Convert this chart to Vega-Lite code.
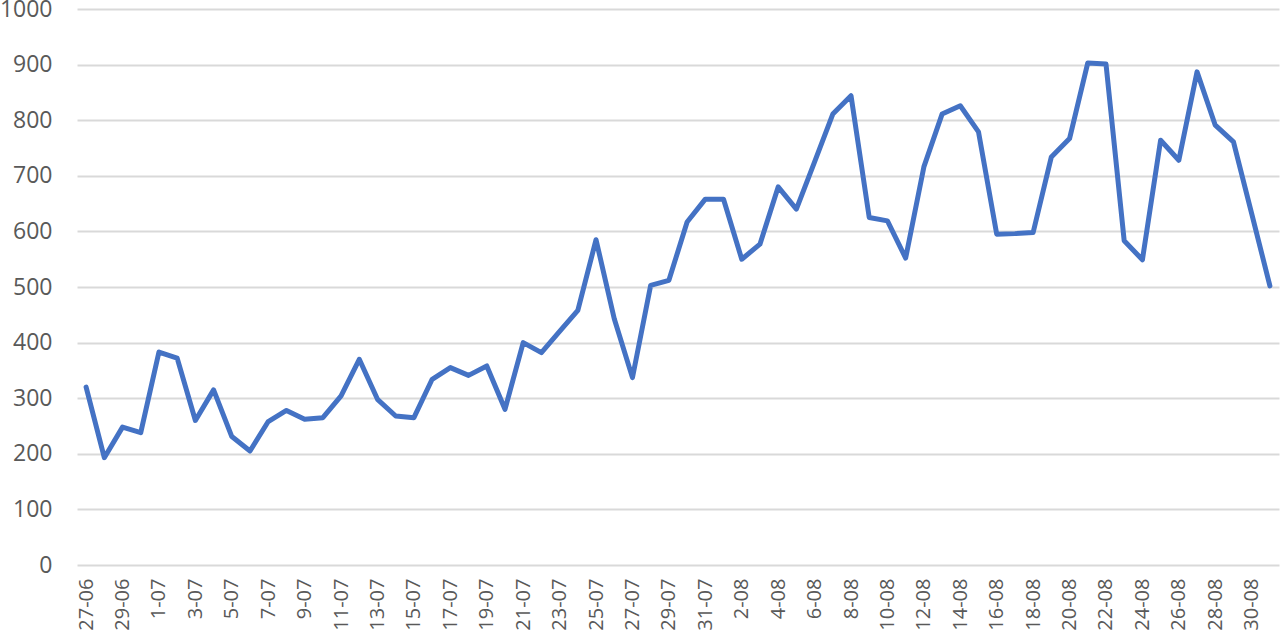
{
  "$schema": "https://vega.github.io/schema/vega-lite/v6.json",
  "width": 1202,
  "height": 556,
  "autosize": {"type": "none"},
  "padding": {"left": 77, "top": 9, "right": 1, "bottom": 69},
  "background": "white",
  "config": {"view": {"stroke": null}, "font": "Open Sans"},
  "data": {"values": [
    {"date": "27-06", "value": 320}, {"date": "28-06", "value": 193}, {"date": "29-06", "value": 248}, {"date": "30-06", "value": 238},
    {"date": "1-07", "value": 383}, {"date": "2-07", "value": 372}, {"date": "3-07", "value": 260}, {"date": "4-07", "value": 315},
    {"date": "5-07", "value": 231}, {"date": "6-07", "value": 205}, {"date": "7-07", "value": 258}, {"date": "8-07", "value": 278},
    {"date": "9-07", "value": 262}, {"date": "10-07", "value": 265}, {"date": "11-07", "value": 304}, {"date": "12-07", "value": 370},
    {"date": "13-07", "value": 298}, {"date": "14-07", "value": 268}, {"date": "15-07", "value": 265}, {"date": "16-07", "value": 334},
    {"date": "17-07", "value": 355}, {"date": "18-07", "value": 341}, {"date": "19-07", "value": 358}, {"date": "20-07", "value": 280},
    {"date": "21-07", "value": 400}, {"date": "22-07", "value": 382}, {"date": "23-07", "value": 420}, {"date": "24-07", "value": 458},
    {"date": "25-07", "value": 585}, {"date": "26-07", "value": 443}, {"date": "27-07", "value": 337}, {"date": "28-07", "value": 503},
    {"date": "29-07", "value": 512}, {"date": "30-07", "value": 617}, {"date": "31-07", "value": 658}, {"date": "1-08", "value": 658},
    {"date": "2-08", "value": 550}, {"date": "3-08", "value": 577}, {"date": "4-08", "value": 680}, {"date": "5-08", "value": 640},
    {"date": "6-08", "value": 725}, {"date": "7-08", "value": 811}, {"date": "8-08", "value": 844}, {"date": "9-08", "value": 625},
    {"date": "10-08", "value": 619}, {"date": "11-08", "value": 552}, {"date": "12-08", "value": 716}, {"date": "13-08", "value": 811},
    {"date": "14-08", "value": 826}, {"date": "15-08", "value": 779}, {"date": "16-08", "value": 595}, {"date": "17-08", "value": 596},
    {"date": "18-08", "value": 598}, {"date": "19-08", "value": 734}, {"date": "20-08", "value": 767}, {"date": "21-08", "value": 903},
    {"date": "22-08", "value": 901}, {"date": "23-08", "value": 583}, {"date": "24-08", "value": 549}, {"date": "25-08", "value": 764},
    {"date": "26-08", "value": 728}, {"date": "27-08", "value": 887}, {"date": "28-08", "value": 791}, {"date": "29-08", "value": 761},
    {"date": "30-08", "value": 632}, {"date": "31-08", "value": 502}
  ]},
  "mark": {"type": "line", "color": "#4472C4", "strokeWidth": 5, "strokeJoin": "round", "strokeCap": "round"},
  "encoding": {
    "x": {
      "field": "date", "type": "ordinal", "sort": null,
      "scale": {"type": "point", "padding": 0.5},
      "axis": {
        "title": null, "domain": false, "ticks": false, "grid": false,
        "labelAngle": -90, "labelAlign": "right", "labelBaseline": "middle",
        "labelPadding": 13, "labelFontSize": 20, "labelColor": "#595959", "labelOverlap": false,
        "values": ["27-06", "29-06", "1-07", "3-07", "5-07", "7-07", "9-07", "11-07", "13-07", "15-07", "17-07", "19-07", "21-07", "23-07", "25-07", "27-07", "29-07", "31-07", "2-08", "4-08", "6-08", "8-08", "10-08", "12-08", "14-08", "16-08", "18-08", "20-08", "22-08", "24-08", "26-08", "28-08", "30-08"]
      }
    },
    "y": {
      "field": "value", "type": "quantitative",
      "scale": {"domain": [0, 1000], "nice": false, "zero": true},
      "axis": {
        "title": null, "domain": false, "ticks": false, "tickSize": 0, "format": "d",
        "values": [0, 100, 200, 300, 400, 500, 600, 700, 800, 900, 1000],
        "grid": true, "gridColor": "#d9d9d9", "gridWidth": 2,
        "labelPadding": 25, "labelFontSize": 23, "labelColor": "#595959"
      }
    }
  }
}
